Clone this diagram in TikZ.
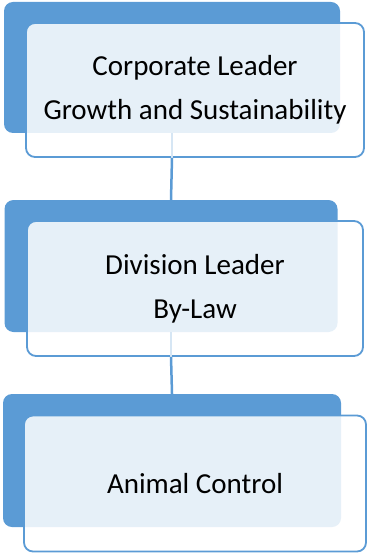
\documentclass[tikz,border=0pt]{standalone}
\usepackage{fontspec}
\setmainfont{Carlito}
\definecolor{accent}{RGB}{91,155,213}
\begin{document}
\begin{tikzpicture}[x=1pt,y=-1pt,
  backbox/.style={rectangle, rounded corners=9pt, fill=accent, draw=none, inner sep=0pt},
  frontbox/.style={rectangle, rounded corners=9pt, fill=white, fill opacity=0.85, text opacity=1, draw=accent, line width=1.8pt, inner sep=0pt, align=center, font=\fontsize{29}{44}\selectfont},
  link/.style={draw=accent, line width=2.5pt},
  faintlink/.style={draw=accent!25, line width=1.5pt}]
\useasboundingbox (0,0) rectangle (367,553);
\node[backbox, minimum width=336pt, minimum height=131pt] (b1) at (172,67.5) {};
\node[backbox, minimum width=333pt, minimum height=132pt] (b2) at (171,266) {};
\node[backbox, minimum width=338pt, minimum height=133pt] (b3) at (172,460.5) {};
\node[frontbox, minimum width=338pt, minimum height=134pt] (f1) at (195,90) {Corporate Leader\\Growth and Sustainability};
\node[frontbox, minimum width=336pt, minimum height=135pt] (f2) at (195,288.5) {Division Leader\\By-Law};
\node[frontbox, minimum width=342pt, minimum height=136pt] (f3) at (195,483.5) {Animal Control};
\draw[faintlink] (b1.south) -- (b1.south |- f1.south);
\draw[link] (b1.south |- f1.south) -- (b2.north);
\draw[faintlink] (b2.south) -- (b2.south |- f2.south);
\draw[link] (b2.south |- f2.south) -- (b3.north);
\end{tikzpicture}
\end{document}
